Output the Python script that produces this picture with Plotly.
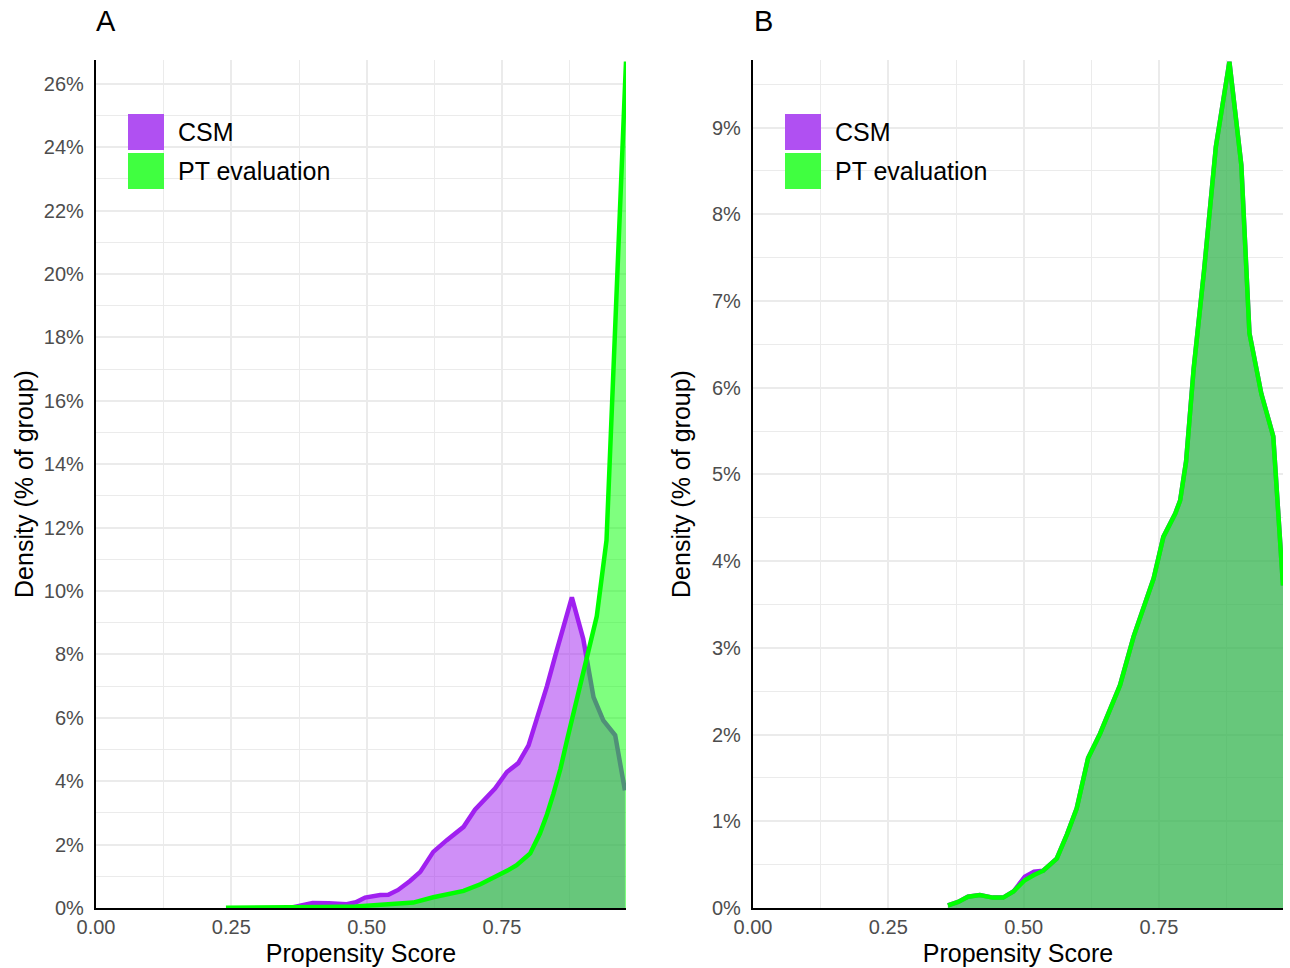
import plotly.graph_objects as go

# ---------------- data (propensity score, density in % of group) ----------------
# Panel A
a_csm_x = [0.358, 0.38, 0.40, 0.43, 0.463, 0.48, 0.497, 0.525, 0.540, 0.558, 0.580, 0.599,
           0.623, 0.648, 0.679, 0.700, 0.720, 0.737, 0.759, 0.780, 0.799, 0.814, 0.833,
           0.851, 0.865, 0.879, 0.900, 0.919, 0.937, 0.959, 0.977]
a_csm_y = [0.0, 0.08, 0.16, 0.15, 0.12, 0.18, 0.33, 0.41, 0.42, 0.57, 0.85, 1.14,
           1.77, 2.14, 2.56, 3.10, 3.45, 3.77, 4.29, 4.57, 5.13, 5.92, 7.0,
           8.12, 8.95, 9.80, 8.49, 6.65, 5.92, 5.45, 3.71]
a_pt_x = [0.240, 0.300, 0.360, 0.420, 0.480, 0.525, 0.555, 0.586, 0.623, 0.650, 0.679,
          0.710, 0.740, 0.760, 0.777, 0.802, 0.820, 0.833, 0.845, 0.858, 0.870, 0.888,
          0.907, 0.925, 0.943, 0.979]
a_pt_y = [0.01, 0.01, 0.02, 0.03, 0.05, 0.09, 0.12, 0.17, 0.34, 0.45, 0.54,
          0.75, 0.99, 1.18, 1.35, 1.72, 2.35, 2.95, 3.61, 4.40, 5.29, 6.60,
          8.02, 9.20, 11.6, 26.7]

# Panel B
b_pt_x = [0.360, 0.379, 0.397, 0.419, 0.443, 0.462, 0.481, 0.502, 0.519, 0.536, 0.561,
          0.580, 0.598, 0.619, 0.641, 0.660, 0.678, 0.703, 0.722, 0.740, 0.758, 0.780,
          0.789, 0.800, 0.814, 0.833, 0.855, 0.880, 0.902, 0.917, 0.939, 0.961, 0.979]
b_pt_y = [0.03, 0.07, 0.13, 0.15, 0.12, 0.12, 0.19, 0.32, 0.38, 0.43, 0.57,
          0.85, 1.15, 1.73, 2.01, 2.30, 2.57, 3.13, 3.48, 3.80, 4.28, 4.55,
          4.70, 5.15, 6.22, 7.34, 8.78, 9.76, 8.57, 6.63, 5.93, 5.44, 3.72]
b_csm_x = [0.360, 0.379, 0.397, 0.419, 0.443, 0.462, 0.481, 0.502, 0.519, 0.536, 0.561,
           0.580, 0.598, 0.619, 0.641, 0.660, 0.678, 0.703, 0.722, 0.740, 0.758, 0.780,
           0.789, 0.800, 0.814, 0.833, 0.855, 0.880, 0.902, 0.917, 0.939, 0.961, 0.979]
b_csm_y = [0.03, 0.07, 0.13, 0.15, 0.12, 0.12, 0.19, 0.36, 0.42, 0.43, 0.57,
           0.85, 1.15, 1.73, 2.01, 2.30, 2.57, 3.13, 3.48, 3.80, 4.28, 4.55,
           4.70, 5.15, 6.22, 7.34, 8.78, 9.76, 8.57, 6.63, 5.93, 5.44, 3.72]

groups = ["CSM", "PT evaluation"]
x_ticks = [0.0, 0.25, 0.50, 0.75]
x_labels = ["0.00", "0.25", "0.50", "0.75"]
a_y_ticks = list(range(0, 27, 2))
b_y_ticks = list(range(0, 10, 1))
panel_labels = ["A", "B"]

# ---------------- style ----------------
W, H = 1290, 968
PURPLE = "#A020F0"
GREEN = "#00FF00"
PURPLE_FILL = "rgba(160,32,240,0.5)"
GREEN_FILL = "rgba(0,255,0,0.5)"
KEY_PURPLE = "#B050F2"
KEY_GREEN = "#40FF40"
FONT = "Liberation Sans, Arial, Helvetica, sans-serif"
GRID = "#EBEBEB"
LW = 4.5

fig = go.Figure()

def add_pair(cx, cy, px, py, xa, ya):
    fig.add_trace(go.Scatter(x=cx, y=cy, mode="lines", fill="tozeroy",
                             fillcolor=PURPLE_FILL, line=dict(color=PURPLE, width=LW),
                             name=groups[0], showlegend=False, xaxis=xa, yaxis=ya))
    fig.add_trace(go.Scatter(x=px, y=py, mode="lines", fill="tozeroy",
                             fillcolor=GREEN_FILL, line=dict(color=GREEN, width=LW),
                             name=groups[1], showlegend=False, xaxis=xa, yaxis=ya))

add_pair(a_csm_x, a_csm_y, a_pt_x, a_pt_y, "x", "y")
add_pair(b_csm_x, b_csm_y, b_pt_x, b_pt_y, "x2", "y2")

def px_x(p):
    return p / W

def px_y(p):
    return 1 - p / H

xdomA = [px_x(96), px_x(626)]
xdomB = [px_x(753), px_x(1283)]
ydom = [px_y(908), px_y(60)]

def xaxis_cfg(domain, anchor):
    return dict(domain=domain, anchor=anchor, range=[0, 0.979],
                tickvals=x_ticks, ticktext=x_labels,
                tickfont=dict(family=FONT, size=20, color="#4D4D4D"),
                ticks="", 
                showgrid=True, gridcolor=GRID, gridwidth=2.2,
                minor=dict(dtick=0.125, tick0=0, showgrid=True, gridcolor=GRID, gridwidth=1.1, ticks=""),
                showline=True, linecolor="black", linewidth=2.2, zeroline=False,
                title=dict(text="Propensity Score", font=dict(family=FONT, size=25, color="black"),
                           standoff=7),
                automargin=False)

def yaxis_cfg(domain, anchor, top, ticks, minor_dtick, standoff):
    return dict(domain=domain, anchor=anchor, range=[0, top],
                tickvals=ticks, ticktext=[f"{t}%" for t in ticks],
                tickfont=dict(family=FONT, size=20, color="#4D4D4D"),
                ticks="outside", ticklen=6, tickcolor="rgba(0,0,0,0)",
                showgrid=True, gridcolor=GRID, gridwidth=2.2,
                minor=dict(dtick=minor_dtick, tick0=0, showgrid=True, gridcolor=GRID, gridwidth=1.1, ticks=""),
                showline=True, linecolor="black", linewidth=2.2, zeroline=False,
                title=dict(text="Density (% of group)", font=dict(family=FONT, size=25, color="black"),
                           standoff=standoff),
                automargin=False)

shapes = []
annotations = []
for i, (x0px, label_px) in enumerate([(128, 106), (785, 763)]):
    for j, (top, bot) in enumerate([(114, 150), (153, 189)]):
        shapes.append(dict(type="rect", xref="paper", yref="paper",
                           x0=px_x(x0px), x1=px_x(x0px + 36), y0=px_y(bot), y1=px_y(top),
                           fillcolor=[KEY_PURPLE, KEY_GREEN][j], line=dict(width=0)))
        annotations.append(dict(text=groups[j], xref="paper", yref="paper",
                                x=px_x(x0px + 48), y=px_y((top + bot) / 2),
                                xanchor="left", yanchor="middle", showarrow=False,
                                font=dict(family=FONT, size=25, color="black")))
    annotations.append(dict(text=panel_labels[i], xref="paper", yref="paper",
                            x=px_x(label_px), y=px_y(21), xanchor="center", yanchor="middle",
                            showarrow=False, font=dict(family=FONT, size=29, color="black")))

fig.update_layout(
    width=W, height=H,
    margin=dict(l=0, r=0, t=0, b=0),
    paper_bgcolor="white", plot_bgcolor="white",
    xaxis=xaxis_cfg(xdomA, "y"),
    yaxis=yaxis_cfg(ydom, "x", 26.75, a_y_ticks, 1, 3),
    xaxis2=xaxis_cfg(xdomB, "y2"),
    yaxis2=yaxis_cfg(ydom, "x2", 9.78, b_y_ticks, 0.5, 14),
    shapes=shapes, annotations=annotations,
    showlegend=False,
)

fig.write_html("out.html", config={"displayModeBar": False},
               post_script="document.body.style.margin='0';document.body.style.overflow='hidden';")
